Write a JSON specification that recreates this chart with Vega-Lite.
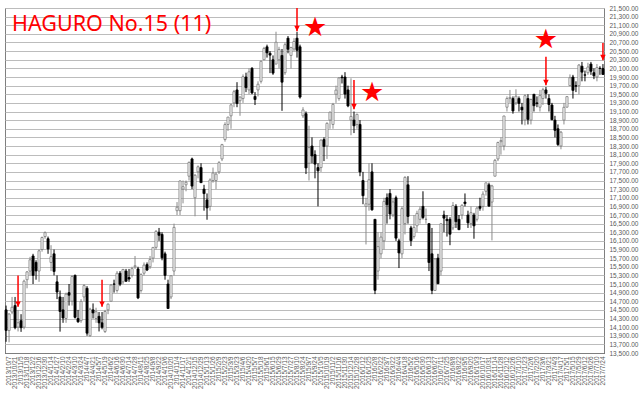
{
"$schema":"https://vega.github.io/schema/vega-lite/v6.json",
"width":599,"height":345,"autosize":"none",
"padding":{"left":5,"top":8,"right":40,"bottom":51},
"background":"white",
"config":{"view":{"stroke":"#7f7f7f","strokeWidth":1},"font":"Liberation Sans"},
"datasets":{
"w":[
{"d":"2013/9/30","o":14500,"h":14600,"l":13760,"c":14024},
{"d":"2013/10/7","o":14020,"h":14420,"l":13748,"c":14404},
{"d":"2013/10/15","o":14450,"h":14800,"l":14400,"c":14561},
{"d":"2013/10/21","o":14600,"h":14800,"l":14050,"c":14088},
{"d":"2013/10/28","o":14100,"h":14500,"l":14000,"c":14201},
{"d":"2013/11/5","o":14250,"h":14400,"l":13990,"c":14086},
{"d":"2013/11/11","o":14100,"h":15200,"l":14050,"c":15165},
{"d":"2013/11/18","o":15200,"h":15400,"l":15000,"c":15381},
{"d":"2013/11/25","o":15400,"h":15730,"l":15300,"c":15661},
{"d":"2013/12/2","o":15750,"h":15800,"l":15100,"c":15299},
{"d":"2013/12/9","o":15600,"h":15650,"l":15200,"c":15403},
{"d":"2013/12/16","o":15400,"h":15900,"l":15150,"c":15870},
{"d":"2013/12/24","o":15900,"h":16200,"l":15850,"c":16178},
{"d":"2013/12/30","o":16200,"h":16320,"l":16150,"c":16291},
{"d":"2014/1/6","o":16150,"h":16200,"l":15800,"c":15912},
{"d":"2014/1/14","o":15600,"h":16000,"l":15400,"c":15734},
{"d":"2014/1/20","o":15800,"h":15900,"l":15300,"c":15391},
{"d":"2014/1/27","o":15150,"h":15300,"l":14750,"c":14914},
{"d":"2014/2/3","o":14800,"h":14950,"l":13995,"c":14462},
{"d":"2014/2/10","o":14500,"h":14800,"l":14200,"c":14313},
{"d":"2014/2/17","o":14300,"h":14900,"l":14200,"c":14865},
{"d":"2014/2/24","o":14900,"h":15100,"l":14600,"c":14841},
{"d":"2014/3/3","o":14700,"h":15300,"l":14600,"c":15274},
{"d":"2014/3/10","o":15300,"h":15320,"l":14300,"c":14327},
{"d":"2014/3/17","o":14300,"h":14500,"l":14200,"c":14224},
{"d":"2014/3/24","o":14250,"h":14750,"l":14200,"c":14696},
{"d":"2014/3/31","o":14800,"h":15100,"l":14700,"c":15063},
{"d":"2014/4/7","o":15000,"h":15050,"l":13900,"c":13960},
{"d":"2014/4/14","o":13900,"h":14550,"l":13880,"c":14516},
{"d":"2014/4/21","o":14500,"h":14650,"l":14300,"c":14429},
{"d":"2014/4/28","o":14300,"h":14550,"l":14200,"c":14457},
{"d":"2014/5/7","o":14350,"h":14450,"l":14000,"c":14199},
{"d":"2014/5/12","o":14200,"h":14450,"l":14050,"c":14097},
{"d":"2014/5/19","o":14000,"h":14500,"l":13964,"c":14462},
{"d":"2014/5/26","o":14500,"h":14650,"l":14400,"c":14632},
{"d":"2014/6/2","o":14700,"h":15100,"l":14700,"c":15077},
{"d":"2014/6/9","o":15100,"h":15200,"l":14900,"c":15097},
{"d":"2014/6/16","o":14950,"h":15400,"l":14900,"c":15349},
{"d":"2014/6/23","o":15350,"h":15400,"l":15050,"c":15095},
{"d":"2014/6/30","o":15150,"h":15450,"l":15100,"c":15437},
{"d":"2014/7/7","o":15400,"h":15450,"l":15150,"c":15164},
{"d":"2014/7/14","o":15250,"h":15450,"l":15150,"c":15215},
{"d":"2014/7/22","o":15300,"h":15500,"l":15250,"c":15457},
{"d":"2014/7/28","o":15500,"h":15750,"l":15450,"c":15523},
{"d":"2014/8/4","o":15450,"h":15500,"l":14750,"c":14778},
{"d":"2014/8/11","o":14950,"h":15350,"l":14900,"c":15318},
{"d":"2014/8/18","o":15350,"h":15600,"l":15300,"c":15539},
{"d":"2014/8/25","o":15550,"h":15600,"l":15400,"c":15424},
{"d":"2014/9/1","o":15500,"h":15750,"l":15450,"c":15668},
{"d":"2014/9/8","o":15700,"h":15950,"l":15600,"c":15948},
{"d":"2014/9/16","o":15950,"h":16350,"l":15900,"c":16321},
{"d":"2014/9/22","o":16300,"h":16400,"l":16100,"c":16229},
{"d":"2014/9/29","o":16250,"h":16300,"l":15650,"c":15708},
{"d":"2014/10/6","o":15800,"h":15850,"l":15200,"c":15300},
{"d":"2014/10/14","o":15100,"h":15200,"l":14529,"c":14532},
{"d":"2014/10/20","o":14800,"h":15300,"l":14750,"c":15291},
{"d":"2014/10/27","o":15400,"h":16500,"l":15300,"c":16413},
{"d":"2014/11/4","o":16800,"h":17000,"l":16700,"c":16880},
{"d":"2014/11/10","o":16800,"h":17500,"l":16700,"c":17490},
{"d":"2014/11/17","o":17300,"h":17500,"l":16970,"c":17357},
{"d":"2014/11/25","o":17400,"h":17500,"l":17250,"c":17459},
{"d":"2014/12/1","o":17600,"h":17940,"l":17500,"c":17920},
{"d":"2014/12/8","o":18000,"h":18030,"l":17300,"c":17371},
{"d":"2014/12/15","o":17100,"h":17650,"l":16670,"c":17621},
{"d":"2014/12/22","o":17700,"h":17850,"l":17550,"c":17818},
{"d":"2014/12/29","o":17800,"h":17900,"l":17450,"c":17450},
{"d":"2015/1/5","o":17300,"h":17400,"l":16800,"c":17197},
{"d":"2015/1/13","o":17050,"h":17200,"l":16590,"c":16864},
{"d":"2015/1/19","o":16900,"h":17550,"l":16800,"c":17511},
{"d":"2015/1/26","o":17500,"h":17800,"l":17450,"c":17674},
{"d":"2015/2/2","o":17500,"h":17700,"l":17300,"c":17648},
{"d":"2015/2/9","o":17700,"h":17950,"l":17650,"c":17913},
{"d":"2015/2/16","o":18000,"h":18350,"l":17950,"c":18332},
{"d":"2015/2/23","o":18450,"h":18850,"l":18400,"c":18797},
{"d":"2015/3/2","o":18800,"h":18970,"l":18650,"c":18971},
{"d":"2015/3/9","o":19000,"h":19280,"l":18700,"c":19254},
{"d":"2015/3/16","o":19300,"h":19600,"l":19200,"c":19560},
{"d":"2015/3/23","o":19600,"h":19780,"l":19200,"c":19285},
{"d":"2015/3/30","o":19350,"h":19450,"l":19000,"c":19435},
{"d":"2015/4/6","o":19400,"h":19960,"l":19300,"c":19908},
{"d":"2015/4/13","o":19900,"h":20000,"l":19550,"c":19653},
{"d":"2015/4/20","o":19600,"h":20100,"l":19500,"c":20020},
{"d":"2015/4/27","o":20100,"h":20130,"l":19500,"c":19531},
{"d":"2015/5/7","o":19450,"h":19550,"l":19250,"c":19379},
{"d":"2015/5/11","o":19600,"h":19800,"l":19450,"c":19732},
{"d":"2015/5/18","o":19800,"h":20280,"l":19750,"c":20264},
{"d":"2015/5/25","o":20300,"h":20600,"l":20300,"c":20563},
{"d":"2015/6/1","o":20600,"h":20650,"l":20350,"c":20460},
{"d":"2015/6/8","o":20450,"h":20500,"l":19990,"c":20407},
{"d":"2015/6/15","o":20300,"h":20400,"l":19950,"c":19990},
{"d":"2015/6/22","o":20200,"h":20950,"l":20200,"c":20706},
{"d":"2015/6/29","o":20300,"h":20600,"l":20100,"c":20539},
{"d":"2015/7/6","o":20400,"h":20550,"l":19115,"c":19780},
{"d":"2015/7/13","o":20000,"h":20700,"l":19950,"c":20650},
{"d":"2015/7/21","o":20800,"h":20850,"l":20450,"c":20544},
{"d":"2015/7/27","o":20400,"h":20600,"l":20100,"c":20585},
{"d":"2015/8/3","o":20550,"h":20800,"l":20500,"c":20724},
{"d":"2015/8/10","o":20800,"h":20946,"l":20350,"c":20519},
{"d":"2015/8/17","o":20600,"h":20650,"l":19400,"c":19435},
{"d":"2015/8/24","o":19000,"h":19200,"l":18950,"c":19136},
{"d":"2015/8/31","o":19050,"h":19100,"l":17650,"c":17792},
{"d":"2015/9/7","o":17900,"h":18770,"l":17500,"c":18264},
{"d":"2015/9/14","o":18300,"h":18500,"l":17900,"c":18070},
{"d":"2015/9/24","o":18100,"h":18200,"l":17550,"c":17880},
{"d":"2015/9/28","o":17800,"h":17900,"l":16901,"c":17725},
{"d":"2015/10/5","o":17800,"h":18450,"l":17700,"c":18438},
{"d":"2015/10/13","o":18450,"h":18500,"l":17950,"c":18291},
{"d":"2015/10/19","o":18300,"h":18850,"l":18000,"c":18825},
{"d":"2015/10/26","o":18900,"h":19100,"l":18700,"c":19083},
{"d":"2015/11/2","o":18800,"h":19300,"l":18700,"c":19265},
{"d":"2015/11/9","o":19500,"h":19700,"l":19300,"c":19596},
{"d":"2015/11/16","o":19400,"h":19900,"l":19350,"c":19879},
{"d":"2015/11/24","o":19900,"h":19950,"l":19750,"c":19883},
{"d":"2015/11/30","o":19900,"h":20012,"l":19400,"c":19504},
{"d":"2015/12/7","o":19600,"h":19700,"l":19200,"c":19230},
{"d":"2015/12/14","o":18900,"h":19870,"l":18550,"c":18986},
{"d":"2015/12/21","o":18900,"h":19100,"l":18600,"c":18769},
{"d":"2015/12/28","o":18800,"h":19050,"l":18700,"c":19034},
{"d":"2016/1/4","o":18800,"h":18900,"l":17600,"c":17698},
{"d":"2016/1/12","o":17500,"h":17700,"l":16950,"c":17147},
{"d":"2016/1/18","o":16900,"h":17100,"l":16017,"c":16958},
{"d":"2016/1/25","o":16950,"h":17900,"l":16800,"c":17518},
{"d":"2016/2/1","o":17700,"h":17900,"l":16800,"c":16820},
{"d":"2016/2/8","o":16600,"h":16600,"l":14865,"c":14953},
{"d":"2016/2/15","o":15400,"h":16300,"l":15200,"c":15967},
{"d":"2016/2/22","o":15800,"h":16300,"l":15700,"c":16188},
{"d":"2016/2/29","o":16100,"h":17100,"l":15900,"c":17015},
{"d":"2016/3/7","o":17100,"h":17200,"l":16500,"c":16939},
{"d":"2016/3/14","o":17200,"h":17300,"l":16600,"c":16724},
{"d":"2016/3/22","o":16700,"h":17100,"l":16650,"c":17002},
{"d":"2016/3/28","o":17100,"h":17150,"l":16100,"c":16164},
{"d":"2016/4/4","o":16100,"h":16150,"l":15470,"c":15821},
{"d":"2016/4/11","o":15800,"h":16900,"l":15700,"c":16848},
{"d":"2016/4/18","o":16500,"h":17600,"l":16250,"c":17572},
{"d":"2016/4/25","o":17400,"h":17600,"l":16500,"c":16666},
{"d":"2016/5/2","o":16400,"h":16450,"l":15980,"c":16106},
{"d":"2016/5/9","o":16200,"h":16700,"l":16150,"c":16412},
{"d":"2016/5/16","o":16450,"h":16800,"l":16300,"c":16736},
{"d":"2016/5/23","o":16600,"h":16900,"l":16500,"c":16835},
{"d":"2016/5/30","o":16900,"h":17250,"l":16600,"c":16642},
{"d":"2016/6/6","o":16600,"h":16850,"l":16500,"c":16601},
{"d":"2016/6/13","o":16500,"h":16500,"l":15400,"c":15599},
{"d":"2016/6/20","o":15800,"h":16400,"l":14864,"c":14952},
{"d":"2016/6/27","o":14950,"h":15700,"l":14950,"c":15682},
{"d":"2016/7/4","o":15700,"h":15800,"l":15100,"c":15107},
{"d":"2016/7/11","o":15400,"h":16500,"l":15300,"c":16497},
{"d":"2016/7/19","o":16700,"h":16800,"l":16300,"c":16627},
{"d":"2016/7/25","o":16600,"h":16700,"l":16200,"c":16569},
{"d":"2016/8/1","o":16600,"h":16650,"l":16000,"c":16254},
{"d":"2016/8/8","o":16400,"h":17000,"l":16350,"c":16919},
{"d":"2016/8/15","o":16900,"h":16950,"l":16400,"c":16545},
{"d":"2016/8/22","o":16600,"h":16700,"l":16350,"c":16360},
{"d":"2016/8/29","o":16700,"h":16950,"l":16600,"c":16925},
{"d":"2016/9/5","o":17000,"h":17200,"l":16900,"c":16965},
{"d":"2016/9/12","o":16700,"h":16800,"l":16400,"c":16519},
{"d":"2016/9/20","o":16500,"h":16900,"l":16400,"c":16754},
{"d":"2016/9/26","o":16700,"h":16750,"l":16150,"c":16449},
{"d":"2016/10/3","o":16600,"h":16900,"l":16550,"c":16860},
{"d":"2016/10/11","o":16900,"h":17100,"l":16800,"c":16856},
{"d":"2016/10/17","o":16900,"h":17250,"l":16800,"c":17184},
{"d":"2016/10/24","o":17250,"h":17450,"l":17150,"c":17446},
{"d":"2016/10/31","o":17400,"h":17450,"l":16900,"c":16905},
{"d":"2016/11/7","o":17000,"h":17400,"l":16111,"c":17374},
{"d":"2016/11/14","o":17600,"h":18000,"l":17600,"c":17967},
{"d":"2016/11/21","o":18000,"h":18400,"l":17950,"c":18381},
{"d":"2016/11/28","o":18400,"h":18500,"l":18100,"c":18426},
{"d":"2016/12/5","o":18300,"h":19000,"l":18200,"c":18996},
{"d":"2016/12/12","o":19200,"h":19450,"l":19100,"c":19401},
{"d":"2016/12/19","o":19400,"h":19600,"l":19300,"c":19427},
{"d":"2016/12/26","o":19400,"h":19450,"l":19050,"c":19114},
{"d":"2017/1/4","o":19300,"h":19615,"l":19250,"c":19454},
{"d":"2017/1/10","o":19400,"h":19450,"l":19100,"c":19287},
{"d":"2017/1/16","o":19200,"h":19300,"l":18800,"c":19137},
{"d":"2017/1/23","o":18900,"h":19500,"l":18780,"c":19467},
{"d":"2017/1/30","o":19400,"h":19500,"l":18800,"c":18918},
{"d":"2017/2/6","o":18900,"h":19400,"l":18800,"c":19378},
{"d":"2017/2/13","o":19500,"h":19500,"l":19100,"c":19235},
{"d":"2017/2/20","o":19300,"h":19450,"l":19200,"c":19283},
{"d":"2017/2/27","o":19200,"h":19600,"l":19100,"c":19469},
{"d":"2017/3/6","o":19400,"h":19650,"l":19250,"c":19604},
{"d":"2017/3/13","o":19600,"h":19668,"l":19400,"c":19521},
{"d":"2017/3/21","o":19400,"h":19500,"l":19100,"c":19262},
{"d":"2017/3/27","o":19250,"h":19300,"l":18900,"c":18909},
{"d":"2017/4/3","o":18900,"h":19000,"l":18500,"c":18664},
{"d":"2017/4/10","o":18700,"h":18800,"l":18300,"c":18335},
{"d":"2017/4/17","o":18300,"h":18650,"l":18224,"c":18620},
{"d":"2017/4/24","o":18900,"h":19300,"l":18800,"c":19197},
{"d":"2017/5/1","o":19200,"h":19450,"l":19200,"c":19445},
{"d":"2017/5/8","o":19700,"h":19960,"l":19700,"c":19883},
{"d":"2017/5/15","o":19900,"h":19950,"l":19400,"c":19590},
{"d":"2017/5/22","o":19700,"h":19800,"l":19550,"c":19687},
{"d":"2017/5/29","o":19700,"h":20200,"l":19500,"c":20177},
{"d":"2017/6/5","o":20150,"h":20250,"l":19800,"c":20013},
{"d":"2017/6/12","o":19950,"h":20050,"l":19800,"c":19943},
{"d":"2017/6/19","o":20000,"h":20230,"l":19950,"c":20132},
{"d":"2017/6/26","o":20200,"h":20250,"l":19950,"c":20033},
{"d":"2017/7/3","o":20000,"h":20100,"l":19850,"c":19929},
{"d":"2017/7/10","o":19900,"h":20200,"l":19800,"c":20118},
{"d":"2017/7/18","o":20100,"h":20150,"l":19950,"c":20099},
{"d":"2017/7/24","o":20100,"h":20200,"l":19950,"c":19959}
],
"arrows":[
{"d":"2013/10/28","top":15300,"tip":14570},
{"d":"2014/5/12","top":15200,"tip":14570},
{"d":"2015/8/10","top":21500,"tip":20960},
{"d":"2015/12/21","top":19830,"tip":19150},
{"d":"2017/3/13","top":20370,"tip":19710},
{"d":"2017/7/24","top":20690,"tip":20290}
],
"stars":[
{"d":"2015/9/24","p":21040},
{"d":"2016/2/1","p":19530},
{"d":"2017/3/13","p":20760}
],
"label":[{"d":"2013/10/15","p":21100,"t":"HAGURO No.15 (11)"}]
},
"layer":[
{"data":{"name":"w"},"mark":{"type":"rule","strokeWidth":1},
"encoding":{
"x":{"field":"d","type":"ordinal","sort":null,"scale":{"paddingInner":0.3,"paddingOuter":0},
"axis":{"title":null,"labelAngle":-90,"labelFontSize":6.5,"labelColor":"#595959","labelPadding":3,"ticks":false,"domainColor":"#404040","domainDash":[1,1],"labelOverlap":false,"labelBound":false,
"values":["2013/10/7","2013/10/21","2013/11/5","2013/11/18","2013/12/2","2013/12/16","2013/12/30","2014/1/14","2014/1/27","2014/2/10","2014/2/24","2014/3/10","2014/3/24","2014/4/7","2014/4/21","2014/5/7","2014/5/19","2014/6/2","2014/6/16","2014/6/30","2014/7/14","2014/7/28","2014/8/11","2014/8/25","2014/9/8","2014/9/22","2014/10/6","2014/10/20","2014/11/4","2014/11/17","2014/12/1","2014/12/15","2014/12/29","2015/1/13","2015/1/26","2015/2/9","2015/2/23","2015/3/9","2015/3/23","2015/4/6","2015/4/20","2015/5/7","2015/5/18","2015/6/1","2015/6/15","2015/6/29","2015/7/13","2015/7/27","2015/8/10","2015/8/24","2015/9/7","2015/9/24","2015/10/5","2015/10/19","2015/11/2","2015/11/16","2015/11/30","2015/12/14","2015/12/28","2016/1/12","2016/1/25","2016/2/8","2016/2/22","2016/3/7","2016/3/22","2016/4/4","2016/4/18","2016/5/2","2016/5/16","2016/5/30","2016/6/13","2016/6/27","2016/7/11","2016/7/25","2016/8/8","2016/8/22","2016/9/5","2016/9/20","2016/10/3","2016/10/17","2016/10/31","2016/11/14","2016/11/28","2016/12/12","2016/12/26","2017/1/10","2017/1/23","2017/2/6","2017/2/20","2017/3/6","2017/3/21","2017/4/3","2017/4/17","2017/5/1","2017/5/15","2017/5/29","2017/6/12","2017/6/26","2017/7/10","2017/7/24"]}},
"y":{"field":"l","type":"quantitative","scale":{"domain":[13500,21500],"nice":false,"zero":false},
"axis":{"title":null,"orient":"right","format":",.2f","tickCount":100,"values":[13500,13700,13900,14100,14300,14500,14700,14900,15100,15300,15500,15700,15900,16100,16300,16500,16700,16900,17100,17300,17500,17700,17900,18100,18300,18500,18700,18900,19100,19300,19500,19700,19900,20100,20300,20500,20700,20900,21100,21300,21500],
"grid":true,"gridColor":"#bcbcbc","gridWidth":1.2,"ticks":false,"domain":false,"labelFontSize":6.5,"labelColor":"#595959","labelPadding":5,"labelOverlap":false,"labelFlush":false,"labelBound":false}},
"y2":{"field":"h"},
"color":{"condition":{"test":"datum.c < datum.o","value":"#000000"},"value":"#8a8a8a"}}},
{"data":{"name":"w"},"mark":{"type":"bar","strokeWidth":0.8},
"encoding":{
"x":{"field":"d","type":"ordinal","sort":null},
"y":{"field":"o","type":"quantitative"},
"y2":{"field":"c"},
"fill":{"condition":{"test":"datum.c < datum.o","value":"#000000"},"value":"#ffffff"},
"stroke":{"condition":{"test":"datum.c < datum.o","value":"#000000"},"value":"#7a7a7a"}}},
{"data":{"name":"arrows"},"mark":{"type":"rule","color":"#ff0000","strokeWidth":1.5},
"encoding":{"x":{"field":"d","type":"ordinal","sort":null},"y":{"field":"top","type":"quantitative"},"y2":{"field":"tip"}}},
{"data":{"name":"arrows"},"mark":{"type":"point","shape":"M-1,-2L1,-2L0,0Z","filled":true,"color":"#ff0000","size":30,"opacity":1},
"encoding":{"x":{"field":"d","type":"ordinal","sort":null},"y":{"field":"tip","type":"quantitative"}}},
{"data":{"name":"stars"},"mark":{"type":"text","text":"★","color":"#ff0000","fontSize":27,"font":"DejaVu Sans","baseline":"middle","align":"center"},
"encoding":{"x":{"field":"d","type":"ordinal","sort":null},"y":{"field":"p","type":"quantitative"}}},
{"data":{"name":"label"},"mark":{"type":"text","color":"#ff0000","fontSize":21.5,"font":"Noto Sans","baseline":"middle","align":"left"},
"encoding":{"x":{"field":"d","type":"ordinal","sort":null},"y":{"field":"p","type":"quantitative"},"text":{"field":"t"}}}
]
}
